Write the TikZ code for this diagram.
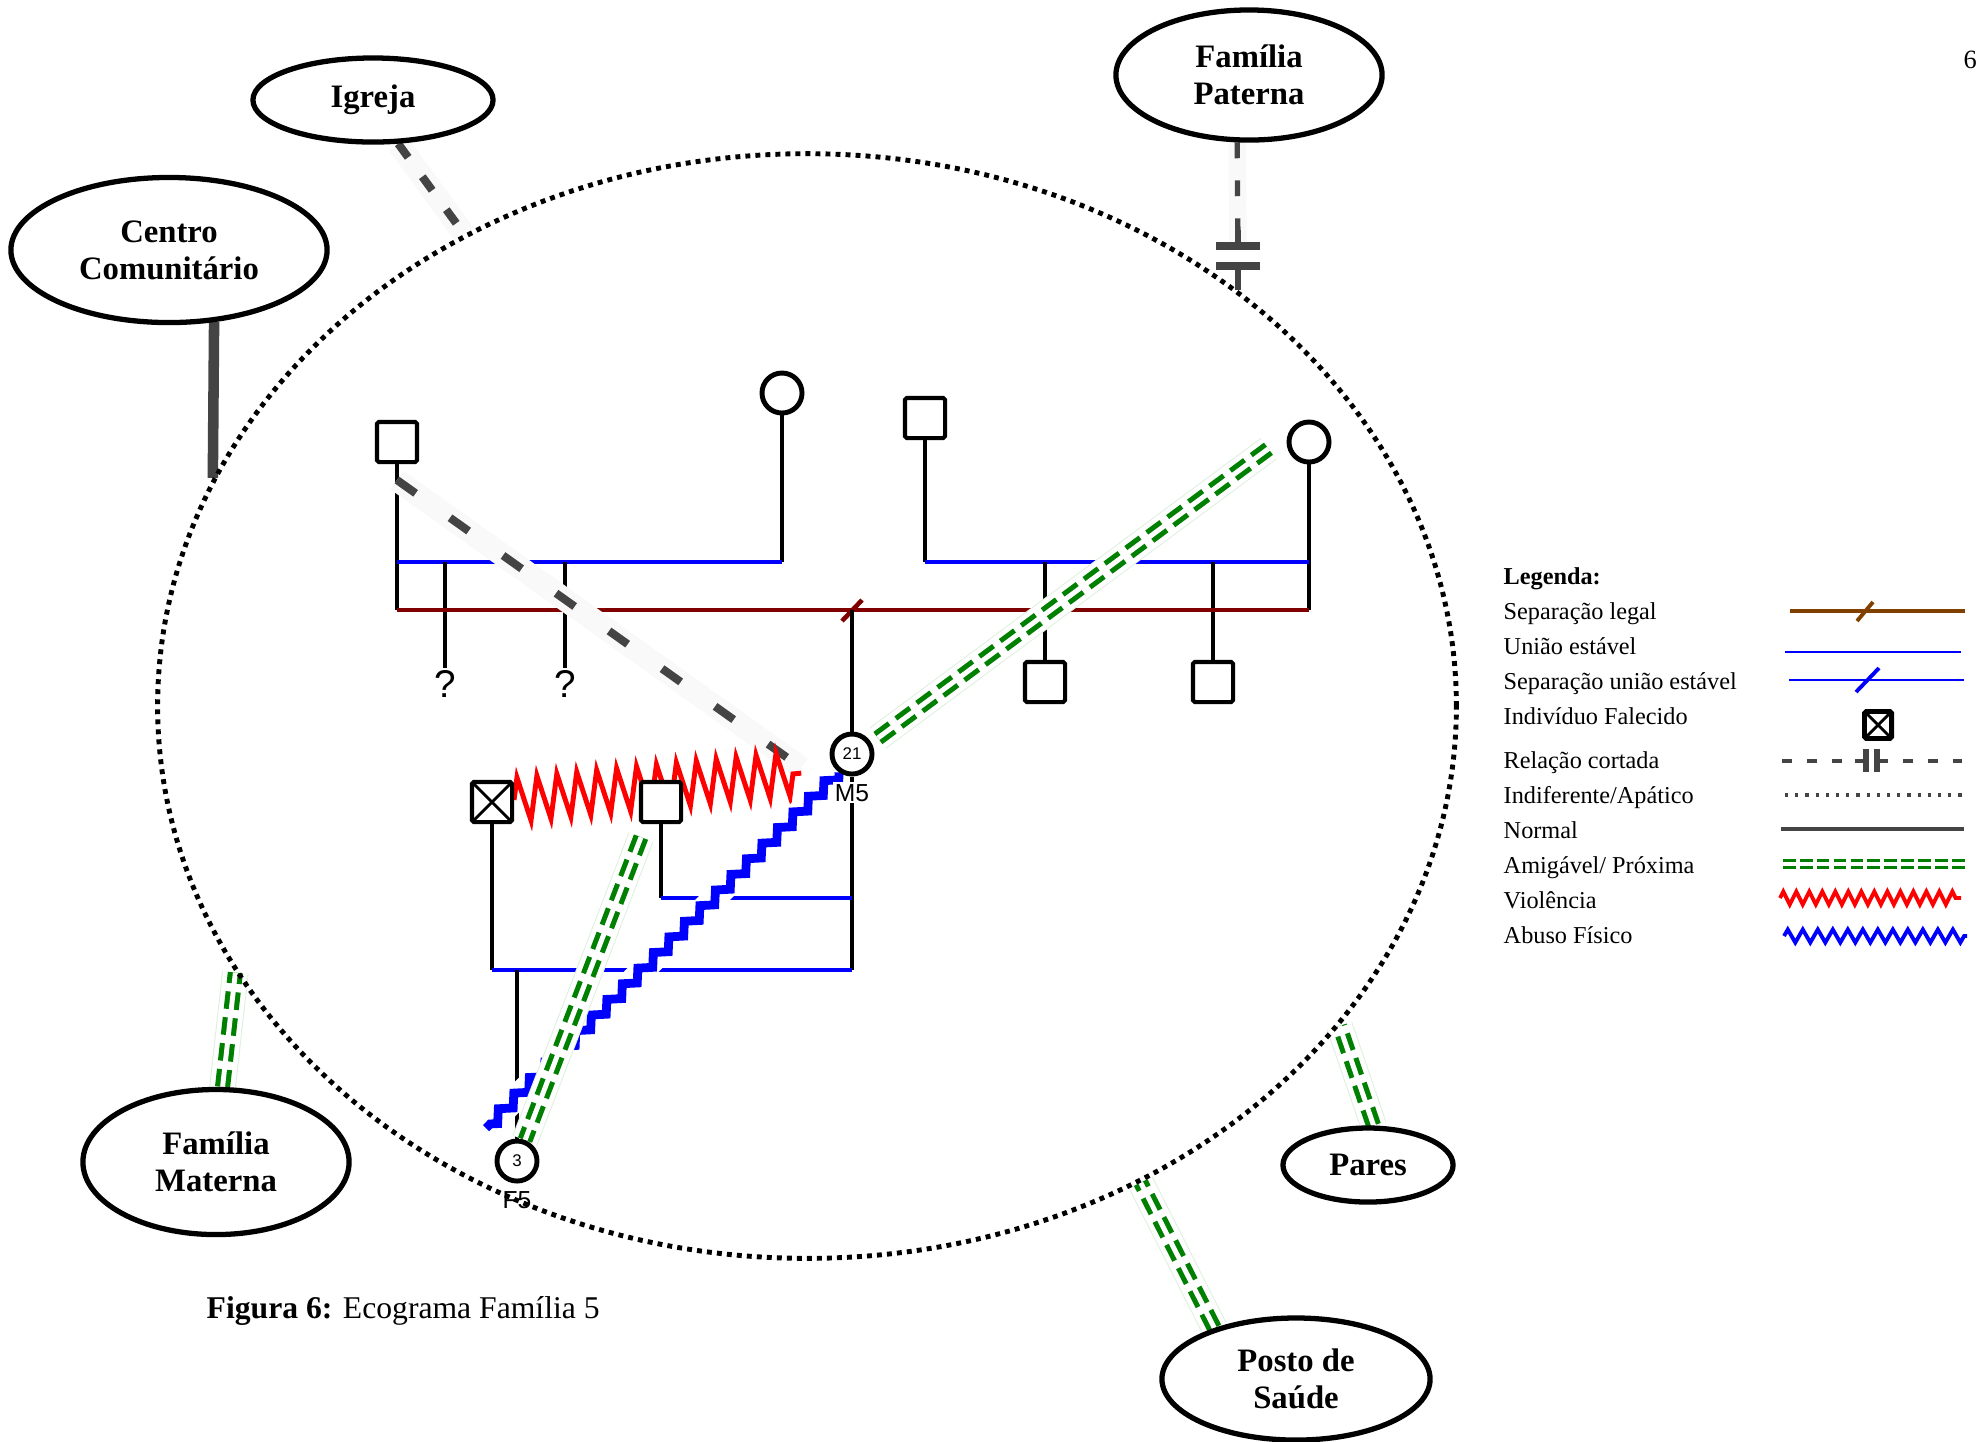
\documentclass[tikz,border=0pt]{standalone}
\usepackage{fontspec}
\setmainfont{Liberation Serif}
\newfontfamily\arialfont{Liberation Sans}
\usetikzlibrary{shapes.geometric,decorations.pathmorphing,positioning,calc}

\definecolor{sepcor}{RGB}{128,0,0}
\definecolor{legcor}{RGB}{128,64,0}
\definecolor{verde}{RGB}{0,128,0}
\definecolor{cinza}{RGB}{68,68,68}
\definecolor{faixa}{RGB}{249,249,249}

\pgfdeclarelayer{fundo}
\pgfdeclarelayer{relacoes}
\pgfsetlayers{fundo,relacoes,main}

\begin{document}
\begin{tikzpicture}[x=0.01cm, y=-0.01cm,
    ecomapa/.style={ellipse, draw, line width=1.4pt, dash pattern=on 1.4pt off 1.45pt, inner sep=0pt},
    sistema/.style={ellipse, draw, line width=1.5pt, inner sep=0pt, align=center, font=\fontsize{9.3}{10.5}\selectfont\bfseries},
    homem/.style={rectangle, draw, fill=white, line width=1.15pt, minimum size=0.4cm, inner sep=0pt, rounded corners=0.5pt},
    mulher/.style={circle, draw, fill=white, line width=1.4pt, minimum size=0.4cm, inner sep=0pt, font=\arialfont\fontsize{4.8}{5}\selectfont},
    falecido/.style={homem, path picture={\draw[line width=0.8pt] (path picture bounding box.south west) -- (path picture bounding box.north east) (path picture bounding box.north west) -- (path picture bounding box.south east);}},
    rotulo/.style={font=\arialfont\fontsize{7}{7}\selectfont, inner sep=0.5pt},
    duvida/.style={font=\arialfont\fontsize{11}{11}\selectfont, inner sep=0.5pt},
    legenda/.style={anchor=west, inner sep=0pt, text height=1.7ex, text depth=0.3ex, font=\fontsize{6.9}{7}\selectfont},
    fam/.style={line width=1.1pt},
    uniao/.style={blue, line width=1.2pt},
    legal/.style={sepcor, line width=1.3pt},
    normal/.style={draw=cinza, line width=3pt},
    distante/.style={draw=cinza, line width=2.3pt, dash pattern=on 6.5pt off 12pt, preaction={draw=faixa, solid, line width=6.5pt}},
    cortada/.style={draw=cinza, line width=1.5pt, dash pattern=on 4.5pt off 6.3pt, preaction={draw=faixa, solid, line width=5pt}},
    marca/.style={draw=cinza, line width=2.2pt},
    amiga/.style={draw=verde, line width=4.3pt, dash pattern=on 5pt off 2.4pt, preaction={draw=verde!12, solid, line width=7.6pt}, preaction={draw=white, solid, line width=7pt}, postaction={draw=white, solid, line width=1.4pt}},
    amigaLeg/.style={draw=verde, line width=3.1pt, dash pattern=on 3.6pt off 1.2pt, postaction={draw=white, solid, line width=1.2pt}},
    violencia/.style={draw=red, line width=1.4pt, decorate, decoration={zigzag, segment length=0.2cm, amplitude=0.22cm}},
    abuso/.style={draw=white, line width=7pt, postaction={draw=blue, line width=2.5pt, decorate, decoration={zigzag, segment length=0.22cm, amplitude=0.05cm}}}]
\useasboundingbox (0,0) rectangle (1977,1441);

% ecomapa e sistemas externos
\node[ecomapa, minimum width=12.98cm, minimum height=11.04cm] (eco) at (807,706) {};
\node[sistema, minimum width=2.40cm, minimum height=0.84cm] (igreja) at (373,100) {Igreja};
\node[sistema, minimum width=2.66cm, minimum height=1.30cm] (paterna) at (1249,75) {Família\\Paterna};
\node[sistema, minimum width=3.16cm, minimum height=1.45cm] (centro) at (169,250) {Centro\\Comunitário};
\node[sistema, minimum width=2.66cm, minimum height=1.45cm] (materna) at (216,1162) {Família\\Materna};
\node[sistema, minimum width=1.70cm, minimum height=0.74cm] (pares) at (1368,1165) {Pares};
\node[sistema, minimum width=2.68cm, minimum height=1.22cm] (posto) at (1296,1379) {Posto de\\Saúde};

% genograma
\node[homem] (avo) at (397,442) {};
\node[mulher] (compA) at (782,393) {};
\node[homem] (compB) at (925,418) {};
\node[mulher] (avoa) at (1309,442) {};
\node[duvida] (qA) at (445,684) {?};
\node[duvida] (qB) at (565,684) {?};
\node[homem] (tioA) at (1045,682) {};
\node[homem] (tioB) at (1213,682) {};
\node[mulher] (M5) at (852,754) {21};
\node[rotulo, fill=white, below=1.5pt of M5] (M5r) {M5};
\node[falecido] (exA) at (492,802) {};
\node[homem] (exB) at (661,802) {};
\node[mulher] (F5) at (517,1161) {3};
\node[rotulo, below=1.5pt of F5] (F5r) {F5};

\coordinate (uA) at (0,562);
\coordinate (sA) at (0,610);
\coordinate (uM1) at (0,898);
\coordinate (uM2) at (0,970);
\coordinate (corteA) at (1238,246);
\coordinate (corteB) at (1238,266);

\begin{pgfonlayer}{fundo}
\draw[fam] (avo) -- (avo |- sA);
\draw[fam] (compA) -- (compA |- uA);
\draw[uniao] (avo |- uA) -- (compA |- uA);
\draw[fam] (qA |- uA) -- (qA);
\draw[fam] (qB |- uA) -- (qB);
\draw[fam] (compB) -- (compB |- uA);
\draw[fam] (avoa) -- (avoa |- sA);
\draw[uniao] (compB |- uA) -- (avoa |- uA);
\draw[fam] (tioA |- uA) -- (tioA);
\draw[fam] (tioB |- uA) -- (tioB);
\draw[legal] (avo |- sA) -- (avoa |- sA);
\draw[legal] ($(M5 |- sA)+(-10,11)$) -- ($(M5 |- sA)+(10,-10)$);
\draw[fam] (M5) -- (M5 |- sA);
\draw[fam] (M5) -- (M5 |- uM2);
\draw[fam] (exB) -- (exB |- uM1);
\draw[uniao] (exB |- uM1) -- (M5 |- uM1);
\draw[fam] (exA) -- (exA |- uM2);
\draw[uniao] (exA |- uM2) -- (M5 |- uM2);
\draw[fam] (F5 |- uM2) -- (F5);
\end{pgfonlayer}

\begin{pgfonlayer}{relacoes}
\draw[distante, dash pattern=on 4.8pt off 6.8pt] (igreja.-60) -- (eco.126.7);
\draw[normal] (centro.-58) -- (eco.159.4);
\draw[cortada] (paterna.260) -- (corteA);
\draw[marca, line width=1.5pt] (corteA) -- ++(0,-16);
\draw[marca] ([xshift=-0.22cm]corteA) -- ([xshift=0.22cm]corteA);
\draw[marca] ([xshift=-0.22cm]corteB) -- ([xshift=0.22cm]corteB);
\draw[marca, line width=1.5pt] (corteB) -- (corteB |- eco.44.3);
\draw[amiga] (materna.85) -- (eco.205.1);
\draw[amiga] (pares.82) -- (eco.329.1);
\draw[amiga] (posto.148) -- (eco.305.9);

\draw[distante] ([yshift=-0.16cm]avo.south) -- ($(M5r.west)!0.4cm!(avo)$);
\draw[violencia] (exA) -- ($(M5.225)!0.35cm!(exA)$);
\draw[abuso] (M5.235) -- ([shift={(-0.15cm,0.17cm)}]F5.north west);
\draw[amiga, shorten <=0.14cm] ([xshift=-0.15cm]exB.south) -- (F5);
\draw[amiga, shorten <=0.08cm, shorten >=0.24cm] (M5.30) -- (avoa.160);
\end{pgfonlayer}

% legenda
\node[legenda, font=\fontsize{6.9}{7}\selectfont\bfseries] (lgTitulo) at (1503,573) {Legenda:};
\node[legenda, below=0.35cm of lgTitulo.west, anchor=west] (lgLegal) {Separação legal};
\node[legenda, below=0.35cm of lgLegal.west, anchor=west] (lgUniao) {União estável};
\node[legenda, below=0.35cm of lgUniao.west, anchor=west] (lgSepUniao) {Separação união estável};
\node[legenda, below=0.35cm of lgSepUniao.west, anchor=west] (lgFalecido) {Indivíduo Falecido};
\node[legenda, below=0.44cm of lgFalecido.west, anchor=west] (lgCortada) {Relação cortada};
\node[legenda, below=0.35cm of lgCortada.west, anchor=west] (lgIndif) {Indiferente/Apático};
\node[legenda, below=0.35cm of lgIndif.west, anchor=west] (lgNormal) {Normal};
\node[legenda, below=0.35cm of lgNormal.west, anchor=west] (lgAmiga) {Amigável/ Próxima};
\node[legenda, below=0.35cm of lgAmiga.west, anchor=west] (lgViol) {Violência};
\node[legenda, below=0.35cm of lgViol.west, anchor=west] (lgAbuso) {Abuso Físico};

\draw[legcor, line width=1.1pt] (1790,611) -- (1965,611);
\draw[legcor, line width=1.1pt] (1857,621) -- (1873,602);
\draw[blue, line width=0.8pt] (1785,652) -- (1961,652);
\draw[blue, line width=0.8pt] (1789,680) -- (1964,680);
\draw[blue, line width=1.1pt] (1856,692) -- (1879,668);
\node[falecido, minimum size=0.27cm, line width=1.4pt] (lgMorto) at (1878,725) {};
\draw[cinza, line width=1.1pt, dash pattern=on 2.85pt off 4.25pt] (1782,761) -- (1845,761);
\draw[cinza, line width=1.1pt] (1855,761) -- (1866,761) (1877,761) -- (1888,761);
\draw[cinza, line width=1.6pt] (1866,749) -- (1866,772) (1877,749) -- (1877,772);
\draw[cinza, line width=1.1pt, dash pattern=on 2.85pt off 4.25pt] (1903,761) -- (1962,761);
\draw[cinza, line width=0.9pt, dash pattern=on 0.9pt off 2pt] (1785,795) -- (1962,795);
\draw[cinza, line width=1.3pt] (1781,829) -- (1964,829);
\draw[amigaLeg] (1783,864) -- (1968,864);
\draw[red, line width=1.1pt, decorate, decoration={zigzag, segment length=0.13cm, amplitude=0.065cm}] (1780,898) -- (1961,898);
\draw[blue, line width=1.1pt, decorate, decoration={zigzag, segment length=0.15cm, amplitude=0.065cm}] (1784,936) -- (1967,936);

% titulo
\node[anchor=west, inner sep=0pt, font=\fontsize{9}{9}\selectfont] (titulo) at (206,1311) {\textbf{Figura 6:} Ecograma Família 5};
\node[anchor=west, inner sep=0pt, font=\fontsize{7.5}{7.5}\selectfont] (pagina) at (1963,60) {6};
\end{tikzpicture}
\end{document}
